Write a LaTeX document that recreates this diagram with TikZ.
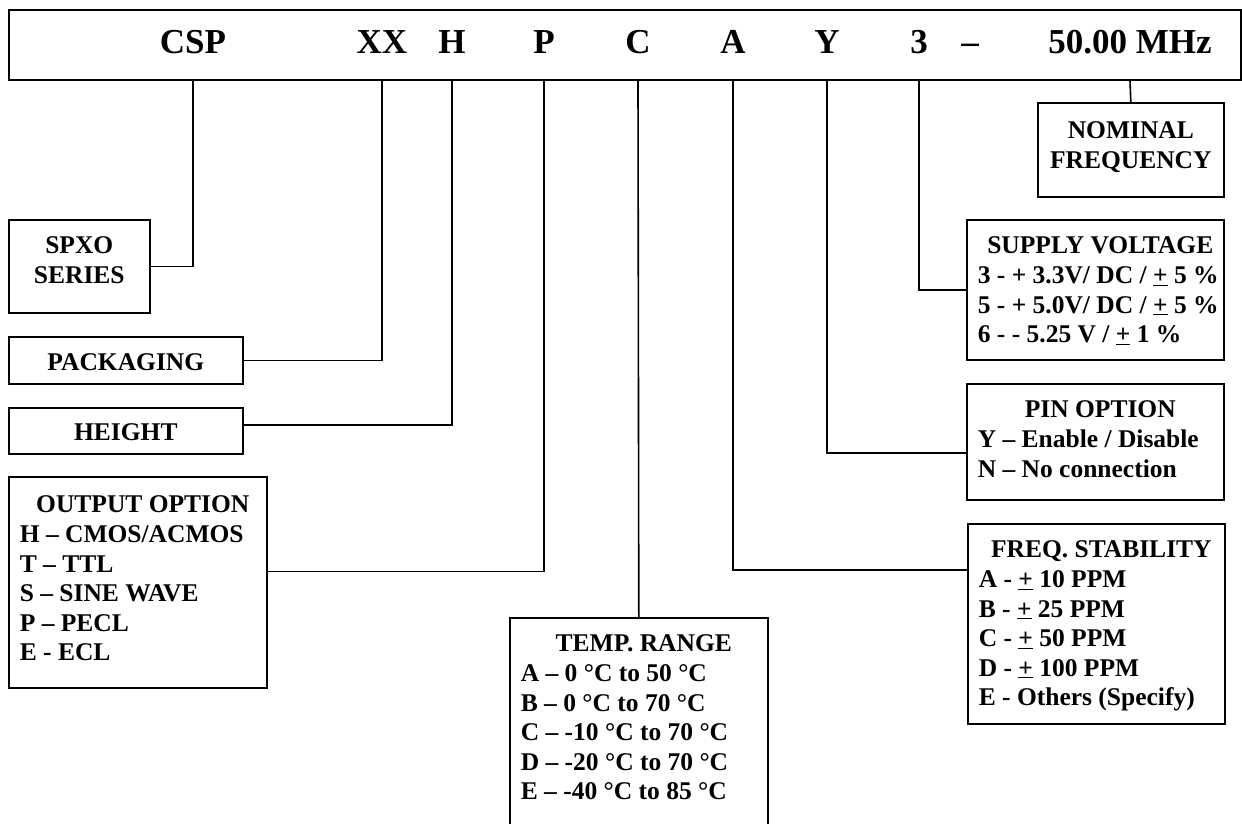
\documentclass[tikz,border=0pt]{standalone}
\usepackage{fontspec}
\setmainfont{Liberation Serif}
\usepackage{tikz}
\usetikzlibrary{positioning}

\newcommand{\bodyfont}{\fontsize{25.5}{29.6}\selectfont\bfseries}
\newcommand{\codefont}{\fontsize{35}{40}\selectfont\bfseries}
\newcommand{\boxtitle}[1]{\makebox[\linewidth]{\hspace{10pt}#1}}

\begin{document}
\begin{tikzpicture}[x=1pt, y=-1pt]
\tikzstyle{frame} = [draw, line width=1.6pt, anchor=north west, inner xsep=11pt, inner ysep=0pt, font=\bodyfont]
\tikzstyle{code} = [anchor=base, inner sep=0pt, font=\codefont]
\tikzstyle{link} = [line width=1.6pt]

\useasboundingbox (0,0) rectangle (1242,823);
\clip (0,0) rectangle (1242,823);

% part number strip
\node[draw, line width=1.6pt, anchor=north west, minimum width=1232pt, minimum height=70pt, inner sep=0pt] (hdr) at (8,9) {};
\node[code] (cCSP) at (193,53) {CSP};
\node[code] (cXX) at (382,53) {XX};
\node[code] (cH) at (452,53) {H};
\node[code] (cP) at (544,53) {P};
\node[code] (cC) at (638,53) {C};
\node[code] (cA) at (733,53) {A};
\node[code] (cY) at (827,53) {Y};
\node[code] (c3) at (919,53) {3};
\node[code] (cDash) at (970,53) {--};
\node[code] (cMHz) at (1130,53) {50.00 MHz};

% option boxes
\node[frame, align=flush center, text width=164pt, text height=36pt, text depth=58pt] (nominal) at (1037,102) {NOMINAL\\FREQUENCY};
\node[frame, align=flush center, text width=119pt, text height=34pt, text depth=59pt] (spxo) at (8,219) {SPXO\\SERIES};
\node[frame, align=flush center, text width=212pt, text height=34pt, text depth=13pt] (pack) at (8,336) {PACKAGING};
\node[frame, align=flush center, text width=212pt, text height=33pt, text depth=13pt] (ht) at (8,407) {HEIGHT};
\node[frame, align=flush left, text width=236pt, text height=36pt, text depth=175pt] (outp) at (8,476)
  {\boxtitle{OUTPUT OPTION}\\H -- CMOS/ACMOS\\T -- TTL\\S -- SINE WAVE\\P -- PECL\\E - ECL};
\node[frame, align=flush left, text width=236pt, text height=34pt, text depth=199pt] (temp) at (509,617)
  {\boxtitle{TEMP. RANGE}\\A -- 0 °C to 50 °C\\B -- 0 °C to 70 °C\\C -- -10 °C to 70 °C\\D -- -20 °C to 70 °C\\E -- -40 °C to 85 °C};
\node[frame, align=flush left, text width=235pt, text height=34pt, text depth=106pt] (supply) at (966,219)
  {\boxtitle{SUPPLY VOLTAGE}\\\mbox{3 - + 3.3V/ DC / \underline{+} 5 \%}\\\mbox{5 - + 5.0V/ DC / \underline{+} 5 \%}\\\mbox{6 - - 5.25 V / \underline{+} 1 \%}};
\node[frame, align=flush left, text width=235pt, text height=34pt, text depth=82pt] (pin) at (966,383)
  {\boxtitle{PIN OPTION}\\Y -- Enable / Disable\\N -- No connection};
\node[frame, align=flush left, text width=235pt, text height=34pt, text depth=166pt] (freq) at (967,523)
  {\boxtitle{FREQ. STABILITY}\\A - \underline{+} 10 PPM\\B - \underline{+} 25 PPM\\C - \underline{+} 50 PPM\\D - \underline{+} 100 PPM\\E - Others (Specify)};

% leader lines
\draw[link] (hdr.south -| cCSP) |- (spxo.east);
\draw[link] (hdr.south -| cXX) |- (pack.east);
\draw[link] (hdr.south -| cH) |- ([yshift=6pt]ht.east);
\draw[link] (hdr.south -| cP) |- ([yshift=11pt]outp.east);
\draw[link] (hdr.south -| cC) -- (temp.north);
\draw[link] (hdr.south -| cA) |- ([yshift=54pt]freq.west);
\draw[link] (hdr.south -| cY) |- ([yshift=-11pt]pin.west);
\draw[link] (hdr.south -| c3) |- (supply.west);
\draw[link] (hdr.south -| cMHz) -- (nominal.north);
\end{tikzpicture}
\end{document}
